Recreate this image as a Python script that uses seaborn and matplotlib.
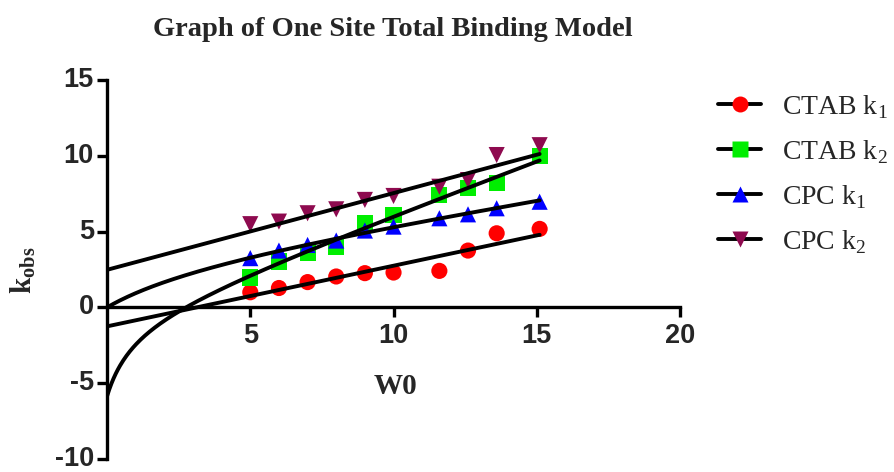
import numpy as np
import pandas as pd
import matplotlib
matplotlib.use("Agg")
import matplotlib.pyplot as plt
from matplotlib.lines import Line2D
import seaborn as sns

# Observed rate constants against W0
w0 = [5, 6, 7, 8, 9, 10, 11.6, 12.6, 13.6, 15.1]
ctab_k1 = [1.0, 1.28, 1.67, 2.04, 2.26, 2.3, 2.41, 3.75, 4.89, 5.18]
ctab_k2 = [1.97, 3.03, 3.58, 4.01, 5.55, 6.1, 7.41, 7.85, 8.22, 9.98]
cpc_k1 = [3.25, 3.75, 4.12, 4.41, 5.07, 5.33, 5.88, 6.14, 6.54, 6.97]
cpc_k2 = [5.49, 5.66, 6.21, 6.47, 7.09, 7.35, 7.96, 8.4, 10.05, 10.7]

series_names = ["CTAB k1", "CTAB k2", "CPC k1", "CPC k2"]
legend_labels = [r"CTAB k$_\mathregular{1}$", r"CTAB k$_\mathregular{2}$",
                 r"CPC k$_\mathregular{1}$", r"CPC k$_\mathregular{2}$"]

# One site total binding fit: Y = Bmax*X/(Kd+X) + NS*X + Background
bmax = [0.0, 5.3, 3.2, 0.0]
kd = [1.0, 0.96, 4.0, 1.0]
ns = [0.40, 0.70, 0.30, 0.506]
background = [-1.25, -5.86, 0.0, 2.48]
fit_x_max = 15.1

colors = ["#ff0000", "#00ee00", "#0000ff", "#8e0a4f"]
markers = ["o", "s", "^", "v"]

values = [ctab_k1, ctab_k2, cpc_k1, cpc_k2]
points = pd.DataFrame({
    "W0": np.tile(w0, 4),
    "kobs": np.concatenate(values),
    "series": np.repeat(series_names, len(w0)),
})

xs = np.linspace(0, fit_x_max, 400)
curve_frames = []
for name, b, k, n, bg in zip(series_names, bmax, kd, ns, background):
    curve_frames.append(pd.DataFrame({
        "W0": xs,
        "kobs": b * xs / (k + xs) + n * xs + bg,
        "series": name,
    }))
curves = pd.concat(curve_frames, ignore_index=True)

sns.set_style("white")
plt.rcParams["mathtext.fontset"] = "custom"
plt.rcParams["mathtext.rm"] = "Liberation Serif"
plt.rcParams["mathtext.bf"] = "Liberation Serif:bold"
plt.rcParams["axes.unicode_minus"] = False

fig = plt.figure(figsize=(8.95, 4.72), dpi=100)
ax = fig.add_axes([0.1196, 0.0275, 0.6402, 0.803])

sns.scatterplot(data=points, x="W0", y="kobs", hue="series", style="series",
                palette=dict(zip(series_names, colors)),
                markers=dict(zip(series_names, markers)),
                s=135, edgecolor="none", linewidth=0, legend=False,
                ax=ax, zorder=2, clip_on=False)

sns.lineplot(data=curves, x="W0", y="kobs", units="series", estimator=None,
             color="black", linewidth=2.8, ax=ax, zorder=3, legend=False)

ax.set_xlim(0, 20)
ax.set_ylim(-10, 15)
ax.set_xticks([5, 10, 15, 20])
ax.set_yticks([-10, -5, 0, 5, 10, 15])
ax.set_xlabel("")
ax.set_ylabel("")

for side in ["top", "right"]:
    ax.spines[side].set_visible(False)
ax.spines["bottom"].set_position(("data", 0))
for side in ["left", "bottom"]:
    ax.spines[side].set_linewidth(2.4)
    ax.spines[side].set_color("black")
    ax.spines[side].set_capstyle("projecting")

ax.tick_params(axis="both", direction="out", length=7.5, width=2.4,
               color="black", pad=2, left=True, bottom=True)
ax.tick_params(axis="x", pad=4)
for lab in ax.get_xticklabels() + ax.get_yticklabels():
    lab.set_fontfamily("Liberation Sans")
    lab.set_fontweight("bold")
    lab.set_fontsize(19.5)
for lab in ax.get_yticklabels():
    lab.set_verticalalignment("center")

fig.text(393 / 895, 1 - 29 / 472, "Graph of One Site Total Binding Model",
         ha="center", va="center", fontsize=20.5, fontweight="bold",
         family="Liberation Serif")
fig.text(396 / 895, 1 - 387 / 472, "W0", ha="center", va="center",
         fontsize=21, fontweight="bold", family="Liberation Serif")
fig.text(23 / 895, 1 - 270 / 472, r"k$_\mathbf{obs}$", ha="center", va="center",
         rotation=90, fontsize=21, fontweight="bold", family="Liberation Serif")

handles = [Line2D([0], [0], color="black", linewidth=2.8, marker=m,
                  markerfacecolor=c, markeredgecolor="none", markersize=11.5)
           for m, c in zip(markers, colors)]
fig.legend(handles, legend_labels, loc="upper left",
           bbox_to_anchor=(718 / 895, 1 - 93 / 472), frameon=False,
           borderpad=0, borderaxespad=0, handlelength=1.55, handletextpad=0.75,
           labelspacing=0.62, prop={"family": "Liberation Serif", "size": 20})

fig.savefig("out.png", dpi=100)
